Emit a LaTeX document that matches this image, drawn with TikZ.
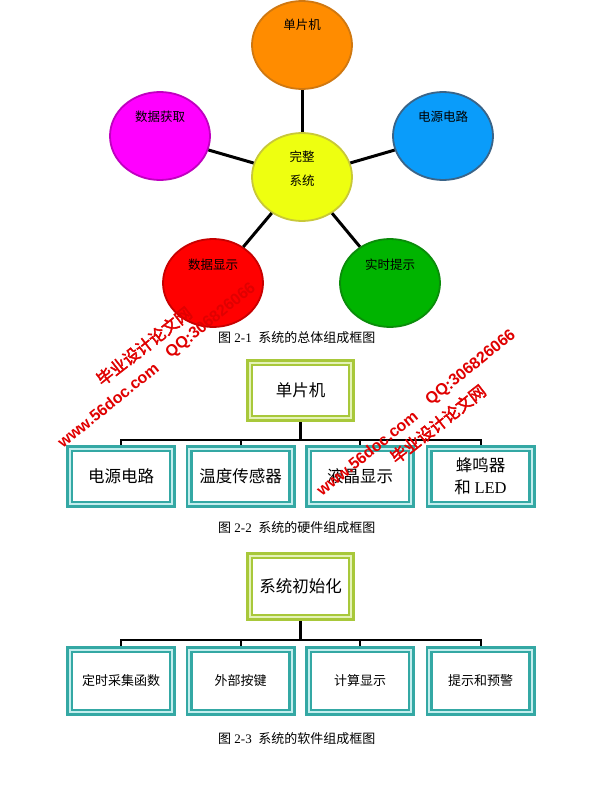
\documentclass[tikz,border=0pt]{standalone}
\usepackage{fontspec}
\setmainfont{Liberation Serif}
\newfontfamily\cjk{Noto Sans CJK SC}
\newfontfamily\cjkb{Noto Sans CJK SC}[FakeBold=2.5]
\newfontfamily\wmsans{Liberation Sans}
\usetikzlibrary{shapes.geometric,backgrounds}
\definecolor{cOrange}{HTML}{FF8C00}\definecolor{bOrange}{HTML}{D07810}
\definecolor{cMag}{HTML}{FF00FF}\definecolor{bMag}{HTML}{C000C0}
\definecolor{cBlue}{HTML}{0A9CFA}\definecolor{bBlue}{HTML}{3A6488}
\definecolor{cYel}{HTML}{EEFF10}\definecolor{bYel}{HTML}{C8C838}
\definecolor{cRed}{HTML}{FF0000}\definecolor{bRed}{HTML}{C80000}
\definecolor{cGreen}{HTML}{00B400}\definecolor{bGreen}{HTML}{0A8C0A}
\definecolor{lime}{HTML}{A8C83A}\definecolor{limeL}{HTML}{E4F2B8}
\definecolor{tealB}{HTML}{34A8A4}\definecolor{tealL}{HTML}{C4EEEE}
\definecolor{wm}{HTML}{E00000}
\tikzset{
  bubble/.style={ellipse, minimum width=100pt, minimum height=88pt, inner sep=0pt, line width=1.8pt},
  btext/.style={font=\cjk\fontsize{12.5}{24}\selectfont, align=center, inner sep=0pt},
  spoke/.style={line width=3pt, black},
  gbox/.style={draw=lime, double=limeL, line width=2.6pt, double distance=2.2pt, fill=white,
    minimum width=101.6pt, inner sep=0pt, align=center, font=\cjk\fontsize{16.5}{22}\selectfont},
  tbox/.style={draw=tealB, double=tealL, line width=2.6pt, double distance=2.2pt, fill=white,
    minimum width=102.6pt, inner sep=0pt, align=center, font=\cjk\fontsize{16.5}{22}\selectfont},
  trunk/.style={line width=2.8pt, black},
  busline/.style={line width=2pt, black},
  capt/.style={anchor=west, inner sep=0pt, font=\fontsize{13}{13}\selectfont},
  wmlat/.style={text=wm, inner sep=0pt, rotate=39, font=\wmsans\bfseries\fontsize{16}{16}\selectfont},
  wmcjk/.style={text=wm, inner sep=0pt, rotate=38, font=\cjkb\fontsize{16.5}{16.5}\selectfont}
}
\begin{document}
\begin{tikzpicture}[x=1pt, y=-1pt]
\begin{pgfonlayer}{background}
\fill[white] (0,0) rectangle (590,795);
\end{pgfonlayer}
\useasboundingbox (0,0) rectangle (590,795);

% ---------- Figure 2-1 ----------
\node[bubble, fill=cYel, draw=bYel,
  label={[btext, yshift=8pt]center:完整\\系统}] (core) at (302,177) {};
\node[bubble, fill=cOrange, draw=bOrange,
  label={[btext, yshift=20pt]center:单片机}] (mcu) at (302,45) {};
\node[bubble, fill=cMag, draw=bMag,
  label={[btext, yshift=19pt]center:数据获取}] (acq) at (160,136) {};
\node[bubble, fill=cBlue, draw=bBlue,
  label={[btext, yshift=19pt]center:电源电路}] (pwr) at (443,136) {};
\node[bubble, fill=cRed, draw=bRed,
  label={[btext, yshift=18pt]center:数据显示}] (disp) at (213,283) {};
\node[bubble, fill=cGreen, draw=bGreen,
  label={[btext, yshift=18pt]center:实时提示}] (alert) at (390,283) {};
\draw[spoke] (core) -- (mcu);
\draw[spoke] (core) -- (acq);
\draw[spoke] (core) -- (pwr);
\draw[spoke] (core) -- (disp);
\draw[spoke] (core) -- (alert);
\node[capt] (cap1) at (218,338) {{\cjk 图}~2-1~~{\cjk 系统的总体组成框图}};

% ---------- Figure 2-2 ----------
\node[gbox, minimum height=55.6pt] (hw) at (300.5,390.5) {单片机};
\node[tbox, minimum height=55.6pt] (h1) at (121,476.5) {电源电路};
\node[tbox, minimum height=55.6pt] (h2) at (240.5,476.5) {温度传感器};
\node[tbox, minimum height=55.6pt] (h3) at (360,476.5) {液晶显示};
\node[tbox, minimum height=55.6pt] (h4) at (480.5,476.5) {蜂鸣器\\和 {\rmfamily LED}};
\coordinate (hb) at (300.5,440);
\begin{pgfonlayer}{background}
\draw[trunk] (hw.south) -- (hw.south |- hb);
\draw[busline] (h1.north) -- (h1.north |- hb) -- (h4.north |- hb) -- (h4.north);
\draw[busline] (h2.north) -- (h2.north |- hb);
\draw[busline] (h3.north) -- (h3.north |- hb);
\end{pgfonlayer}
\node[capt] (cap2) at (218,528) {{\cjk 图}~2-2~~{\cjk 系统的硬件组成框图}};

% ---------- Figure 2-3 ----------
\node[gbox, minimum height=61.6pt] (sw) at (300.5,586.5) {系统初始化};
\node[tbox, minimum height=62.6pt, font=\cjk\fontsize{13}{16}\selectfont] (s1) at (121,681) {定时采集函数};
\node[tbox, minimum height=62.6pt, font=\cjk\fontsize{13}{16}\selectfont] (s2) at (240.5,681) {外部按键};
\node[tbox, minimum height=62.6pt, font=\cjk\fontsize{13}{16}\selectfont] (s3) at (360,681) {计算显示};
\node[tbox, minimum height=62.6pt, font=\cjk\fontsize{13}{16}\selectfont] (s4) at (480.5,681) {提示和预警};
\coordinate (sb) at (300.5,640);
\begin{pgfonlayer}{background}
\draw[trunk] (sw.south) -- (sw.south |- sb);
\draw[busline] (s1.north) -- (s1.north |- sb) -- (s4.north |- sb) -- (s4.north);
\draw[busline] (s2.north) -- (s2.north |- sb);
\draw[busline] (s3.north) -- (s3.north |- sb);
\end{pgfonlayer}
\node[capt] (cap3) at (218,739) {{\cjk 图}~2-3~~{\cjk 系统的软件组成框图}};

% ---------- watermarks ----------
\node[wmlat] (w1) at (108,405) {www.56doc.com};
\node[wmcjk] (w2) at (144,346) {毕业设计论文网};
\node[wmlat] (w3) at (211,321) {QQ:306826066};
\node[wmlat] (w4) at (367,453) {www.56doc.com};
\node[wmcjk] (w5) at (438,424) {毕业设计论文网};
\node[wmlat] (w6) at (471,368) {QQ:306826066};
\end{tikzpicture}
\end{document}
